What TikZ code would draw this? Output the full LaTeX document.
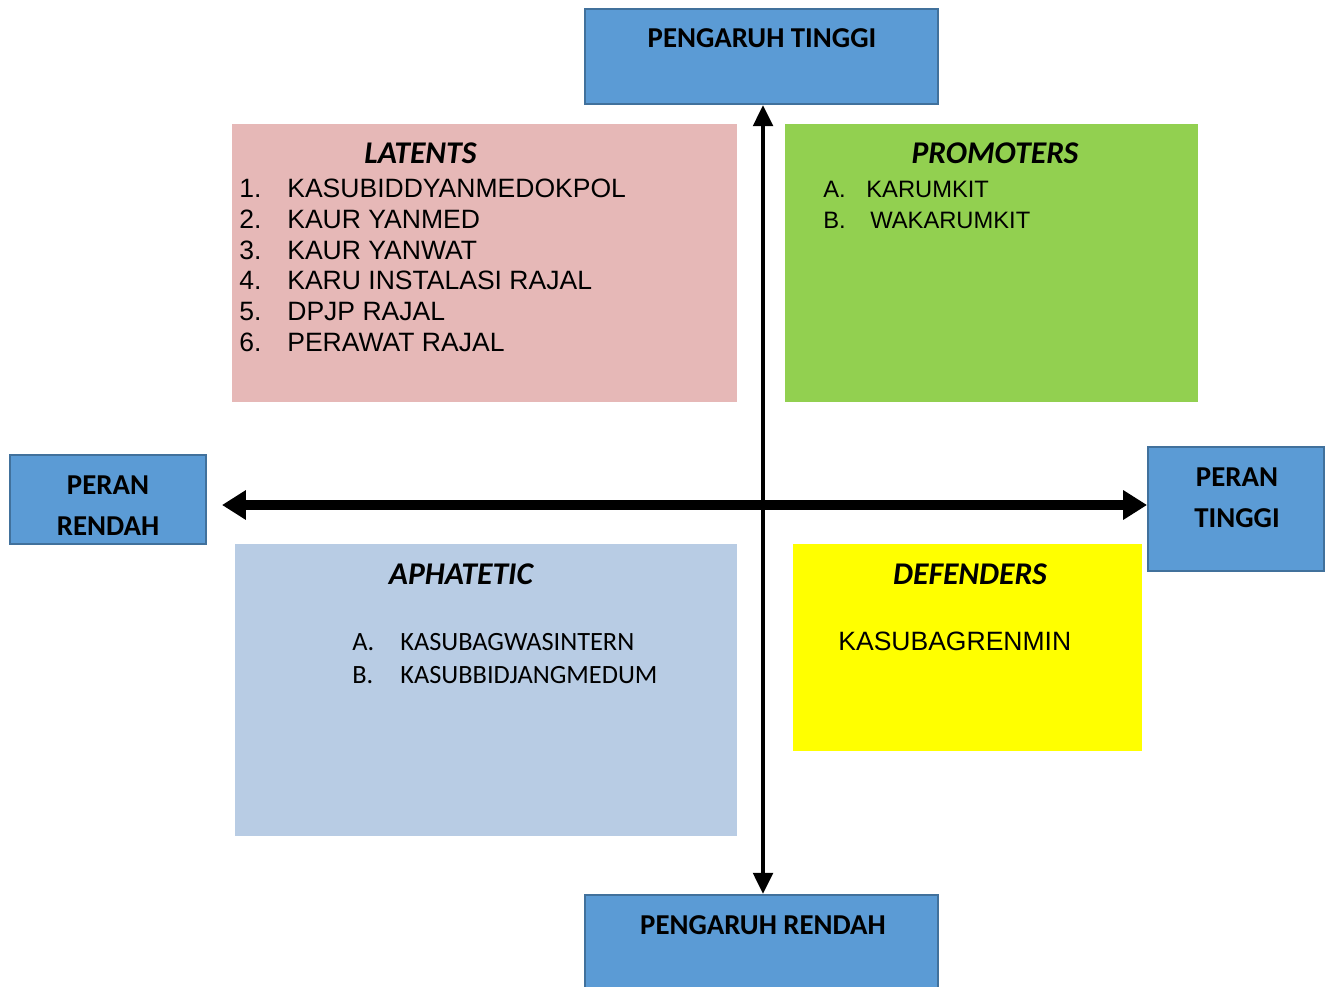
\documentclass[tikz,border=0pt]{standalone}
\usepackage{fontspec}
\newfontfamily\calibri{Carlito}
\newfontfamily\arial{Liberation Sans}
\usetikzlibrary{arrows.meta}
\definecolor{boxblue}{HTML}{5B9BD5}
\definecolor{boxedge}{HTML}{41719C}
\definecolor{latpink}{HTML}{E6B8B7}
\definecolor{promgreen}{HTML}{92D050}
\definecolor{aphblue}{HTML}{B8CCE4}
\definecolor{defyellow}{HTML}{FFFF00}

\begin{document}
\begin{tikzpicture}[x=0.02cm, y=-0.02cm,
	axisbox/.style={draw=boxedge, fill=boxblue, line width=1.1pt, inner sep=0pt},
	quadbox/.style={fill=#1, inner sep=0pt},
	axislabel/.style={font=\calibri\bfseries\fontsize{16.4}{19}\selectfont, anchor=base, inner sep=0pt},
	quadtitle/.style={font=\calibri\bfseries\itshape\fontsize{18}{21}\selectfont, anchor=base, inner sep=0pt},
	itemarial/.style={font=\arial\fontsize{15.1}{18}\selectfont, anchor=base west, inner sep=0pt},
	itemsmall/.style={font=\arial\fontsize{13.5}{16}\selectfont, anchor=base west, inner sep=0pt},
	itemcalibri/.style={font=\calibri\fontsize{15}{18}\selectfont, anchor=base west, inner sep=0pt}]
			%%%%% START %%%%%
			\useasboundingbox (0, 0) rectangle (1329, 987);
			
			\node[axisbox, minimum width=7.06cm, minimum height=1.9cm] (pTinggi) at (761.5, 56.5) {};
			\node[axisbox, minimum width=7.06cm, minimum height=1.9cm] (pRendah) at (761.5, 942.5) {};
			\node[axisbox, minimum width=3.92cm, minimum height=1.78cm] (perRendah) at (108, 499.5) {};
			\node[axisbox, minimum width=3.52cm, minimum height=2.48cm] (perTinggi) at (1236, 509) {};
			
			\node[axislabel] (pTinggiTxt) at (762, 48) {PENGARUH TINGGI};
			\node[axislabel] (pRendahTxt) at (763, 934) {PENGARUH RENDAH};
			\node[axislabel] (perRendahA) at (108, 494) {PERAN};
			\node[axislabel] (perRendahB) at (108, 535) {RENDAH};
			\node[axislabel] (perTinggiA) at (1237, 486) {PERAN};
			\node[axislabel] (perTinggiB) at (1237, 527) {TINGGI};
			
			\node[quadbox=latpink, minimum width=10.1cm, minimum height=5.56cm] (latents) at (484.5, 263) {};
			\node[quadbox=promgreen, minimum width=8.26cm, minimum height=5.56cm] (promoters) at (991.5, 263) {};
			\node[quadbox=aphblue, minimum width=10.04cm, minimum height=5.84cm] (aphatetic) at (486, 690) {};
			\node[quadbox=defyellow, minimum width=6.98cm, minimum height=4.14cm] (defenders) at (967.5, 647.5) {};
			
			%%%%% LATENTS %%%%%
			\node[quadtitle] (latTitle) at (420.5, 163) {LATENTS};
			\node[itemarial] (latNumA) at (239, 197) {1.};
			\node[itemarial] (latItemA) at (287, 197) {KASUBIDDYANMEDOKPOL};
			\node[itemarial] (latNumB) at (239, 228) {2.};
			\node[itemarial] (latItemB) at (287, 228) {KAUR YANMED};
			\node[itemarial] (latNumC) at (239, 259) {3.};
			\node[itemarial] (latItemC) at (287, 259) {KAUR YANWAT};
			\node[itemarial] (latNumD) at (239, 289) {4.};
			\node[itemarial] (latItemD) at (287, 289) {KARU INSTALASI RAJAL};
			\node[itemarial] (latNumE) at (239, 320) {5.};
			\node[itemarial] (latItemE) at (287, 320) {DPJP RAJAL};
			\node[itemarial] (latNumF) at (239, 351) {6.};
			\node[itemarial] (latItemF) at (287, 351) {PERAWAT RAJAL};
			
			%%%%% PROMOTERS %%%%%
			\node[quadtitle] (promTitle) at (995, 163) {PROMOTERS};
			\node[itemsmall] (promNumA) at (823, 197) {A.};
			\node[itemsmall] (promItemA) at (866, 197) {KARUMKIT};
			\node[itemsmall] (promNumB) at (823, 228) {B.};
			\node[itemsmall] (promItemB) at (870, 228) {WAKARUMKIT};
			
			%%%%% APHATETIC %%%%%
			\node[quadtitle] (aphTitle) at (461, 584) {APHATETIC};
			\node[itemcalibri] (aphNumA) at (352, 650) {A.};
			\node[itemcalibri] (aphItemA) at (400, 650) {KASUBAGWASINTERN};
			\node[itemcalibri] (aphNumB) at (352, 683) {B.};
			\node[itemcalibri] (aphItemB) at (400, 683) {KASUBBIDJANGMEDUM};
			
			%%%%% DEFENDERS %%%%%
			\node[quadtitle] (defTitle) at (970, 584) {DEFENDERS};
			\node[itemarial] (defItem) at (838, 650) {KASUBAGRENMIN};
			
			%%%%% AXES %%%%%
			\coordinate (vAxis) at (763, 0);
			\draw[line width=2.8pt, {Triangle[width=10.8pt, length=12pt]}-{Triangle[width=10.8pt, length=12pt]}] (pTinggi.south -| vAxis) -- (pRendah.north -| vAxis);
			\coordinate (hAxis) at (222, 505);
			\draw[line width=5.3pt, {Triangle[width=16pt, length=13.6pt]}-{Triangle[width=16pt, length=13.6pt]}] (hAxis) -- (perTinggi.west |- hAxis);
			
			%%%%% END %%%%%
\end{tikzpicture}
\end{document}
